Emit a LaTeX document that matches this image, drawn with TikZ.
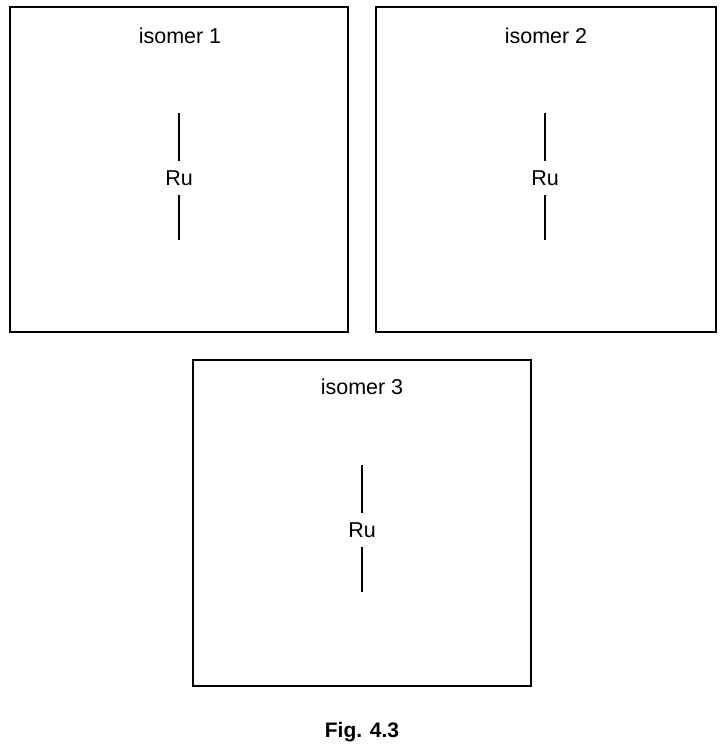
\documentclass[tikz,border=0pt]{standalone}
\usepackage{fontspec}
\setmainfont{Liberation Sans}
\begin{document}
\begin{tikzpicture}[x=1pt,y=-1pt,
  box/.style={draw,line width=1.3pt},
  bond/.style={line width=1.3pt},
  lab/.style={font=\fontsize{21.5}{25}\selectfont,inner sep=0pt}]
\useasboundingbox (0,0) rectangle (725,750);
\draw[box] (10,7) rectangle (348,332);
\draw[box] (376,7) rectangle (716,332);
\draw[box] (193,360) rectangle (531,686);
\node[lab] (t1) at (180,36) {isomer 1};
\node[lab] (t2) at (546,36) {isomer 2};
\node[lab] (t3) at (362,387) {isomer 3};
\foreach \n/\x/\y in {a/179/178,b/545/178,c/362/530}{
  \node[lab,inner sep=0pt,minimum height=34pt] (ru\n) at (\x,\y) {Ru};
  \coordinate (top\n) at (\x,\y-65);
  \coordinate (bot\n) at (\x,\y+62);
  \draw[bond] (top\n) -- (ru\n.north -| top\n);
  \draw[bond] (ru\n.south -| bot\n) -- (bot\n);
}
\node[lab,font=\fontsize{21}{24}\selectfont\bfseries] (fig) at (362,732) {Fig. 4.3};
\end{tikzpicture}
\end{document}
